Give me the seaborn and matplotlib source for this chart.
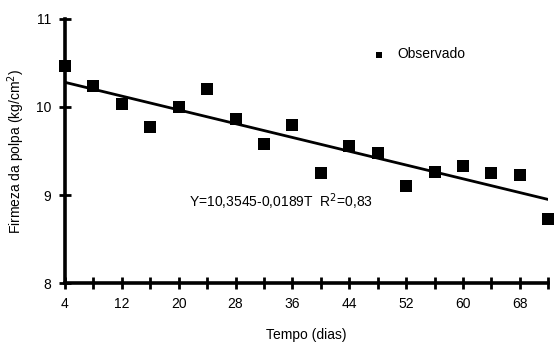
import matplotlib
matplotlib.use("Agg")
import matplotlib.pyplot as plt
import seaborn as sns
import pandas as pd

## Data
dias = [4, 8, 12, 16, 20, 24, 28, 32, 36, 40, 44, 48, 52, 56, 60, 64, 68, 72]
firmeza = [10.47, 10.24, 10.03, 9.77, 10.0, 10.2, 9.86, 9.58, 9.79, 9.25,
           9.56, 9.48, 9.10, 9.26, 9.33, 9.25, 9.23, 8.73]
ajuste_x = [4, 72]
ajuste_y = [10.28, 8.95]
x_ticks = [4, 12, 20, 28, 36, 44, 52, 60, 68]
y_ticks = [8, 9, 10, 11]
equacao = "Y=10,3545-0,0189T  R$^2$=0,83"

obs = pd.DataFrame({"dias": dias, "firmeza": firmeza})
fit = pd.DataFrame({"dias": ajuste_x, "firmeza": ajuste_y})

## Setup
sns.set_style("white", {"text.color": "black", "axes.labelcolor": "black",
                        "xtick.color": "black", "ytick.color": "black"})
plt.rcParams["font.family"] = ["Liberation Sans", "DejaVu Sans"]
fig = plt.figure(figsize=(5.6, 3.5), dpi=100)
ax = fig.add_axes([0.116, 0.191, 0.863, 0.755])

## Plot
sns.lineplot(data=fit, x="dias", y="firmeza", ax=ax, color="black", lw=2)
sns.scatterplot(data=obs, x="dias", y="firmeza", ax=ax, marker="s", s=85,
                color="black", edgecolor="black", linewidth=0, label="Observado",
                clip_on=False, zorder=5)

## Axes
ax.set_xlim(4, 72)
ax.set_ylim(8, 11)
ax.set_xticks(x_ticks)
ax.set_xticks(range(4, 73, 4), minor=True)
ax.set_yticks(y_ticks)
ax.tick_params(axis="both", which="both", direction="inout", length=8, width=2,
               labelsize=10, color="black", labelcolor="black",
               bottom=True, left=True)
ax.tick_params(axis="x", pad=6)
ax.tick_params(axis="y", pad=6)
sns.despine(ax=ax)
for side in ["left", "bottom"]:
    ax.spines[side].set_linewidth(2.6)
    ax.spines[side].set_color("black")

ax.set_xlabel("Tempo (dias)", fontsize=10, labelpad=12, color="black")
ax.set_ylabel("Firmeza da polpa (kg/cm$^2$)", fontsize=10, labelpad=6, color="black")

## Annotation and legend
ax.text(21.5, 8.93, equacao, fontsize=10, ha="left", va="center", color="black")
ax.legend(loc="upper left", bbox_to_anchor=(0.595, 0.94), frameon=False,
          fontsize=10, handletextpad=0.3, markerscale=0.5, labelcolor="black")

fig.savefig("out.png", dpi=100)
